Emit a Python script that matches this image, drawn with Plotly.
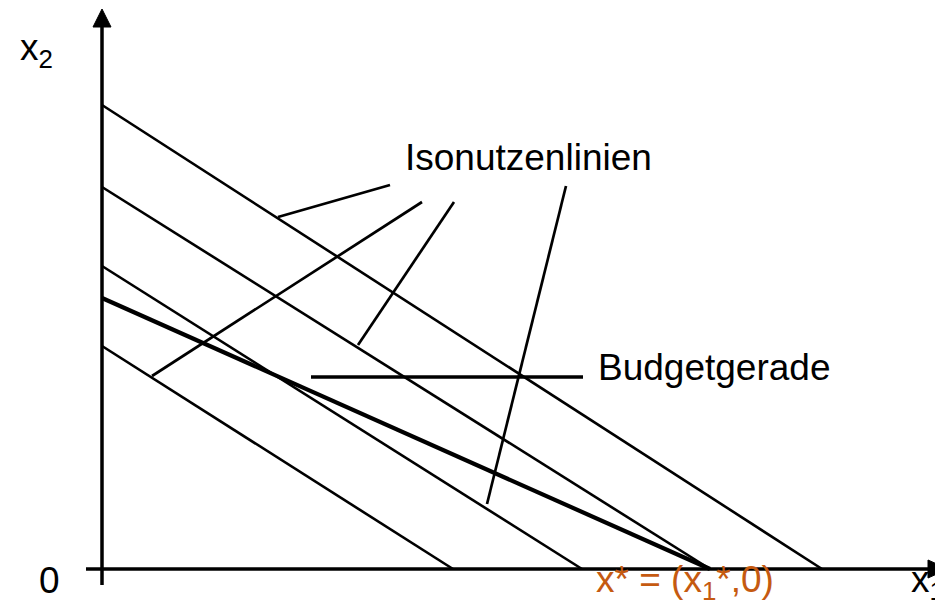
import plotly.graph_objects as go

# Data (abstract units: origin at the axis crossing)
iso_y_intercepts = [223, 303, 382, 464]
iso_x_intercepts = [351, 480, 608, 720]
budget_y_intercept = 271
budget_x_intercept = 608

# pointer lines for labels: (x0, y0, x1, y1)
iso_pointers = [
    (176, 352, 288, 384),
    (50, 193, 320, 367),
    (256, 224, 352, 367),
    (385, 65, 464, 383),
]
budget_pointer = (209, 192, 481, 192)

FONT = "Liberation Sans, Arial, sans-serif"
FS = 37

fig = go.Figure()

for yi, xi in zip(iso_y_intercepts, iso_x_intercepts):
    fig.add_trace(go.Scatter(x=[0, xi], y=[yi, 0], mode="lines",
                             line=dict(color="black", width=2.6), hoverinfo="skip"))

fig.add_trace(go.Scatter(x=[0, budget_x_intercept], y=[budget_y_intercept, 0], mode="lines",
                         line=dict(color="black", width=4.2), hoverinfo="skip"))

for p in iso_pointers + [budget_pointer]:
    w = 3.3 if p is budget_pointer else 2.7
    fig.add_trace(go.Scatter(x=[p[0], p[2]], y=[p[1], p[3]], mode="lines",
                             line=dict(color="black", width=w), hoverinfo="skip"))

shapes = []
# axes
shapes.append(dict(type="line", xref="x", yref="y", x0=-16, y0=0, x1=830, y1=0,
                   line=dict(color="black", width=3.5)))
shapes.append(dict(type="line", xref="x", yref="y", x0=0, y0=-16, x1=0, y1=545,
                   line=dict(color="black", width=3.5)))
# arrowheads
shapes.append(dict(type="path", xref="x", yref="y",
                   path="M -9,542 L 9,542 L 0,560 Z", fillcolor="black", line=dict(color="black", width=1)))
shapes.append(dict(type="path", xref="x", yref="y",
                   path="M 826,-9 L 826,9 L 846,0 Z", fillcolor="black", line=dict(color="black", width=1)))

annotations = [
    dict(x=426, y=412, text="Isonutzenlinien", xanchor="center", yanchor="middle"),
    dict(x=494, y=202, text="Budgetgerade", xanchor="left", yanchor="middle"),
    dict(x=-84, y=519, text="x<sub>2</sub>", xanchor="left", yanchor="middle"),
    dict(x=-53, y=-11, text="0", xanchor="center", yanchor="middle"),
    dict(x=492, y=-13, text="x* = (x<sub>1</sub>*,0)", xanchor="left", yanchor="middle",
         font=dict(color="#C55A11", size=FS, family=FONT)),
    dict(x=807, y=-13, text="x<sub>1</sub>", xanchor="left", yanchor="middle"),
]
for a in annotations:
    a.setdefault("font", dict(color="black", size=FS, family=FONT))
    a["showarrow"] = False
    a["xref"] = "x"
    a["yref"] = "y"

# the page body adds an 8 px margin, so the figure is 8 px smaller on each side
fig.update_layout(
    width=935, height=595,
    margin=dict(l=0, r=0, t=0, b=0),
    paper_bgcolor="white", plot_bgcolor="white",
    showlegend=False,
    xaxis=dict(range=[-94, 841], visible=False, fixedrange=True),
    yaxis=dict(range=[-34, 561], visible=False, fixedrange=True),
    shapes=shapes,
    annotations=annotations,
)

fig.write_html("out.html")
